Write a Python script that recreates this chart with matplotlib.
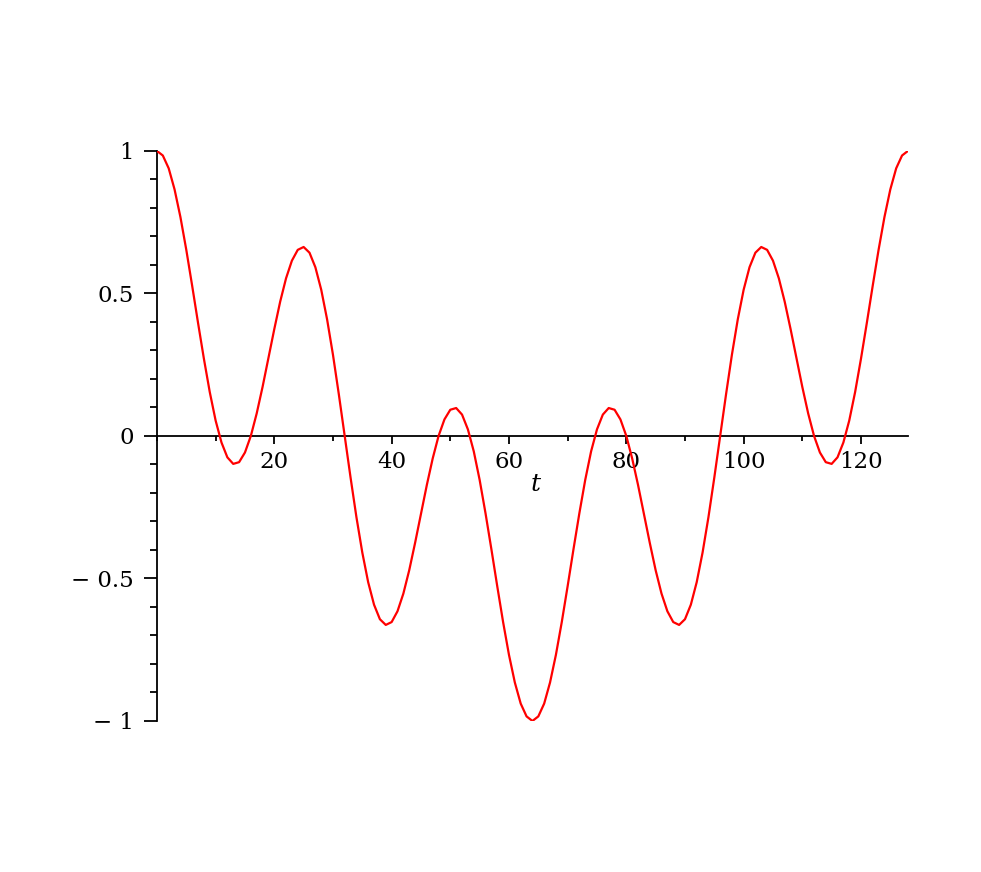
import matplotlib.pyplot as plt
from matplotlib.ticker import MultipleLocator, FixedLocator

# samples, one per unit of t
T = list(range(0, 129))
Y = [1.000, 0.984, 0.939, 0.865, 0.768, 0.653, 0.527, 0.397, 0.271, 0.154,
     0.054, -0.023, -0.075, -0.098, -0.092, -0.058, 0.000, 0.079, 0.172, 0.273,
     0.375, 0.471, 0.553, 0.615, 0.653, 0.663, 0.643, 0.592, 0.513, 0.409,
     0.285, 0.146, 0.000, -0.146, -0.285, -0.409, -0.513, -0.592, -0.643, -0.663,
     -0.653, -0.615, -0.553, -0.471, -0.375, -0.273, -0.172, -0.079, 0.000, 0.058,
     0.092, 0.098, 0.075, 0.023, -0.054, -0.154, -0.271, -0.397, -0.527, -0.653,
     -0.768, -0.865, -0.939, -0.984, -1.000, -0.984, -0.939, -0.865, -0.768, -0.653,
     -0.527, -0.397, -0.271, -0.154, -0.054, 0.023, 0.075, 0.098, 0.092, 0.058,
     0.000, -0.079, -0.172, -0.273, -0.375, -0.471, -0.553, -0.615, -0.653, -0.663,
     -0.643, -0.592, -0.513, -0.409, -0.285, -0.146, 0.000, 0.146, 0.285, 0.409,
     0.513, 0.592, 0.643, 0.663, 0.653, 0.615, 0.553, 0.471, 0.375, 0.273,
     0.172, 0.079, 0.000, -0.058, -0.092, -0.098, -0.075, -0.023, 0.054, 0.154,
     0.271, 0.397, 0.527, 0.653, 0.768, 0.865, 0.939, 0.984, 1.000]

XTICKS = [20, 40, 60, 80, 100, 120]
YTICKS = [-1, -0.5, 0, 0.5, 1]
YLABELS = ['\u2212 1', '\u2212 0.5', '0', '0.5', '1']

plt.rcParams['font.family'] = ['DejaVu Serif']

fig = plt.figure(figsize=(9.81, 8.72), dpi=100)
ax = fig.add_axes([0.160, 0.1732, 0.7655, 0.6537])

ax.plot(T, Y, color='#ff0000', lw=1.6, solid_joinstyle='round')

ax.set_xlim(0, 128)
ax.set_ylim(-1, 1)

for s in ['top', 'right']:
    ax.spines[s].set_visible(False)
ax.spines['left'].set_position(('data', 0))
ax.spines['bottom'].set_position(('data', 0))
for s in ['left', 'bottom']:
    ax.spines[s].set_linewidth(1.3)
    ax.spines[s].set_zorder(1)

ax.xaxis.set_major_locator(FixedLocator(XTICKS))
ax.xaxis.set_minor_locator(MultipleLocator(10))
ax.set_xticklabels([str(v) for v in XTICKS])
ax.yaxis.set_major_locator(FixedLocator(YTICKS))
ax.yaxis.set_minor_locator(MultipleLocator(0.1))
ax.set_yticklabels(YLABELS)

ax.tick_params(axis='x', which='major', direction='out', length=6, width=1.3, pad=5, labelsize=16.5)
ax.tick_params(axis='x', which='minor', direction='out', length=3.5, width=1.3)
ax.tick_params(axis='y', which='major', direction='out', length=9.5, width=1.3, pad=7, labelsize=16.5)
ax.tick_params(axis='y', which='minor', direction='out', length=5, width=1.3)

ax.text(64.5, -0.17, 't', fontsize=18, style='italic', ha='center', va='center')

fig.savefig('out.png', dpi=100)
